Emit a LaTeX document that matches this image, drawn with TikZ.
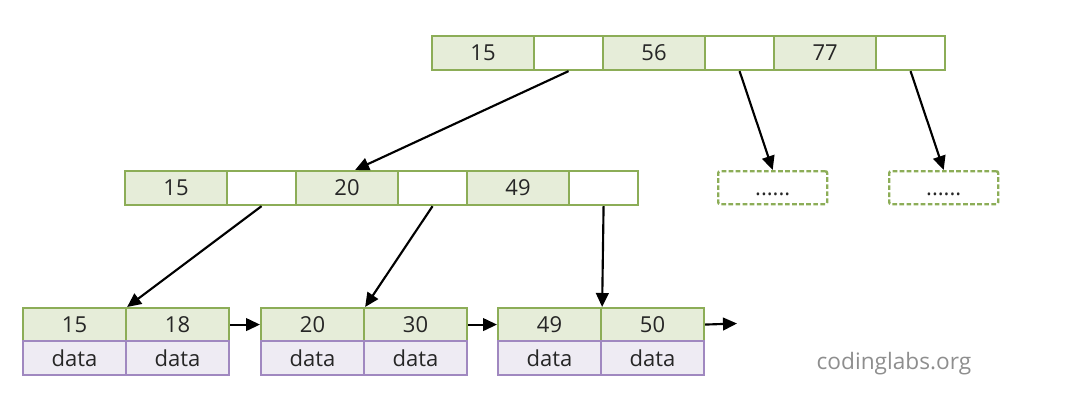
\documentclass[tikz,border=0pt]{standalone}
\usepackage{fontspec}
\setmainfont{Open Sans}
\usetikzlibrary{arrows.meta}
\definecolor{gborder}{HTML}{8CAD57}
\definecolor{gfill}{HTML}{E6EDD9}
\definecolor{pborder}{HTML}{A088C0}
\definecolor{pfill}{HTML}{EEEBF3}
\definecolor{txt}{HTML}{262626}
\definecolor{logo}{HTML}{8E8E8E}
\tikzset{
  cell/.style={anchor=north west, inner sep=0pt, line width=1.6pt, text=txt,
    font=\fontsize{16.5}{18}\selectfont, minimum height=25.5pt},
  keycell/.style={cell, draw=gborder, fill=gfill, minimum width=76.5pt},
  ptrcell/.style={cell, draw=gborder, fill=white, minimum width=51.75pt},
  leafkey/.style={cell, draw=gborder, fill=gfill, minimum width=77.25pt, minimum height=24.75pt},
  datacell/.style={cell, draw=pborder, fill=pfill, minimum width=77.25pt, minimum height=25.5pt},
  dashbox/.style={cell, draw=gborder, line width=1.8pt, dash pattern=on 3.5pt off 1.8pt, rounded corners=1.5pt,
    minimum width=81.75pt, minimum height=24.75pt, fill=white},
  arr/.style={draw=black, line width=1.6pt, -{Triangle[length=10.5pt,width=9.5pt]}}
}
\begin{document}
\begin{tikzpicture}[x=0.75pt,y=-0.75pt]
\useasboundingbox (0,0) rectangle (1070,414);
% top node
\node[keycell] (t1) at (431,35) {15};
\node[ptrcell] (t2) at (533,35) {};
\node[keycell] (t3) at (602,35) {56};
\node[ptrcell] (t4) at (704,35) {};
\node[keycell] (t5) at (773,35) {77};
\node[ptrcell] (t6) at (875,35) {};
% middle node
\node[keycell] (m1) at (124,170) {15};
\node[ptrcell] (m2) at (226,170) {};
\node[keycell] (m3) at (295,170) {20};
\node[ptrcell] (m4) at (397,170) {};
\node[keycell] (m5) at (466,170) {49};
\node[ptrcell] (m6) at (568,170) {};
% dashed boxes
\node[dashbox] (d1) at (717,170) {\vphantom{0}......};
\node[dashbox] (d2) at (888,170) {\vphantom{0}......};
% leaves
\node[leafkey] (l1a) at (22,307) {15};
\node[leafkey] (l1b) at (125,307) {18};
\node[datacell] (l1c) at (22,340) {data};
\node[datacell] (l1d) at (125,340) {data};
\node[leafkey] (l2a) at (260,307) {20};
\node[leafkey] (l2b) at (363,307) {30};
\node[datacell] (l2c) at (260,340) {data};
\node[datacell] (l2d) at (363,340) {data};
\node[leafkey] (l3a) at (497,307) {49};
\node[leafkey] (l3b) at (600,307) {50};
\node[datacell] (l3c) at (497,340) {data};
\node[datacell] (l3d) at (600,340) {data};
\coordinate (end) at (737,323.5);
% arrows
\draw[arr] (t2.south) -- ([xshift=6pt]m3.north);
\draw[arr] (t4.south) -- (d1.north);
\draw[arr] (t6.south) -- (d2.north);
\draw[arr] (m2.south) -- (l1a.north east);
\draw[arr] (m4.south) -- (l2a.north east);
\draw[arr] (m6.south) -- (l3a.north east);
\draw[arr] (l1b.east) -- (l2a.west);
\draw[arr] (l2b.east) -- (l3a.west);
\draw[arr] (l3b.east) -- (end);
% logo
\node[anchor=base, text=logo, font=\fontsize{17}{19}\selectfont, inner sep=0pt] (logo) at (894,369) {codinglabs.org};
\end{tikzpicture}
\end{document}
